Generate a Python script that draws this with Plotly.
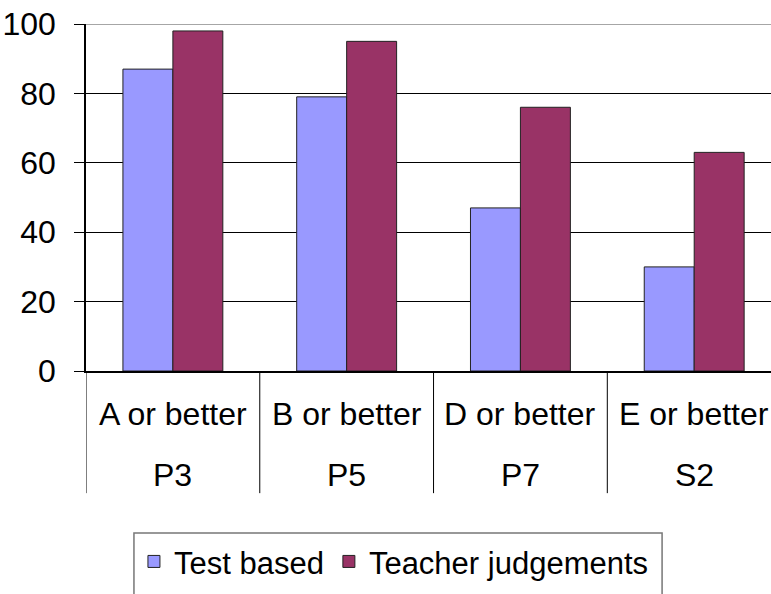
import plotly.graph_objects as go

# chart data
stages = ["P3", "P5", "P7", "S2"]
levels = ["A or better", "B or better", "D or better", "E or better"]
test_based = [87, 79, 47, 30]
teacher_judgements = [98, 95, 76, 63]
y_ticks = [0, 20, 40, 60, 80, 100]

COLORS = {"test": "#9999ff", "teacher": "#993366"}
FONT = "Liberation Sans, Arial, sans-serif"

fig = go.Figure()
fig.add_trace(go.Bar(
    x=levels, y=test_based, name="Test based",
    marker=dict(color=COLORS["test"], line=dict(color="#222222", width=1))
))
fig.add_trace(go.Bar(
    x=levels, y=teacher_judgements, name="Teacher judgements",
    marker=dict(color=COLORS["teacher"], line=dict(color="#222222", width=1))
))

# top border line is grey in the original
fig.add_shape(type="line", xref="paper", yref="y", x0=0, x1=1, y0=100, y1=100,
              line=dict(color="#888888", width=1.5))

# dividers between category groups, below the axis
for i in range(len(levels) + 1):
    fig.add_shape(type="line", xref="x", yref="paper",
                  x0=i - 0.5, x1=i - 0.5, y0=0, y1=-0.352,
                  line=dict(color="black", width=1))

# legend frame, runs off the bottom edge like the original
fig.add_shape(type="rect", xref="paper", yref="paper",
              x0=0.070, x1=0.841, y0=-0.75, y1=-0.467,
              line=dict(color="#777777", width=1.5))

# two-level category labels
for lvl, stg in zip(levels, stages):
    fig.add_annotation(text=lvl, x=lvl, xref="x", y=-0.124, yref="paper",
                       showarrow=False, font=dict(size=32), yanchor="middle")
    fig.add_annotation(text=stg, x=lvl, xref="x", y=-0.30, yref="paper",
                       showarrow=False, font=dict(size=32), yanchor="middle")

fig.update_layout(
    width=771, height=594,
    margin=dict(l=86, r=0, t=24, b=223),
    plot_bgcolor="white", paper_bgcolor="white",
    barmode="group", bargap=0.425, bargroupgap=0,
    font=dict(family=FONT, size=30, color="black"),
    showlegend=True,
    legend=dict(
        orientation="h", x=0.070, y=-0.472, xanchor="left", yanchor="top",
        borderwidth=0, bgcolor="rgba(0,0,0,0)",
        font=dict(size=31), itemwidth=30,
    ),
)

fig.update_xaxes(
    type="category", range=[-0.5, 3.442], automargin=False,
    showline=True, linecolor="black", linewidth=1.5,
    ticks="", showticklabels=False, showgrid=False,
)
fig.update_yaxes(
    range=[0, 100], tickvals=y_ticks, automargin=False,
    showline=True, linecolor="black", linewidth=1.5,
    ticks="outside", ticklen=10, tickcolor="black",
    showgrid=True, gridcolor="black", gridwidth=1,
    tickfont=dict(size=32), ticklabelstandoff=12,
    ticklabeloverflow="allow", zeroline=False,
)

# drop the default body margin so the figure fills the window exactly
fig.write_html("out.html", config={"displayModeBar": False},
               post_script="document.body.style.margin='0';")
